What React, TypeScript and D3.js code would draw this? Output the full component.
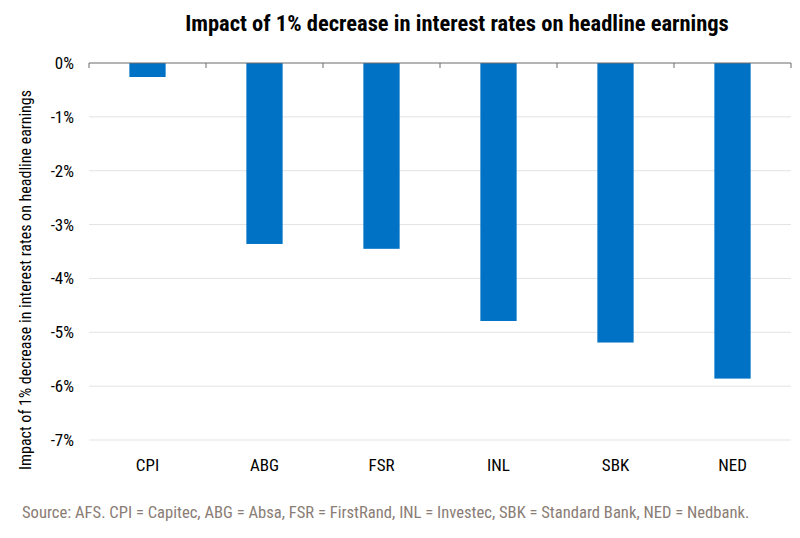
import React from "react";
import * as d3 from "d3";

const categories = ["CPI", "ABG", "FSR", "INL", "SBK", "NED"];
const values = [-0.26, -3.36, -3.45, -4.79, -5.19, -5.86];
const yTicks = [0, -1, -2, -3, -4, -5, -6, -7];

const W = 800;
const H = 538;
const FONT = "'Liberation Sans Narrow', 'Arial Narrow', 'Roboto Condensed', sans-serif";

export default function App() {
  const left = 89;
  const right = 791;
  const top = 63;
  const bottom = 440;
  const x = d3.scaleBand<string>().domain(categories).range([left, right]).paddingInner(0).paddingOuter(0);
  const y = d3.scaleLinear().domain([-7, 0]).range([bottom, top]);
  const bw = x.bandwidth() * 0.31;
  const boundaries = categories.map((c) => x(c) as number).concat([right]);

  return (
    <svg width={W} height={H} style={{ position: "absolute", left: 0, top: 0, background: "#fff" }}>
      <text x={457} y={31} textAnchor="middle" fontFamily={FONT} fontWeight="bold" fontSize={22.5} fill="#000">
        Impact of 1% decrease in interest rates on headline earnings
      </text>
      {yTicks.filter((t) => t !== 0).map((t) => (
        <line key={t} x1={left} x2={right} y1={y(t)} y2={y(t)} stroke="#e3e3e3" strokeWidth={1} />
      ))}
      {yTicks.map((t) => (
        <text key={"l" + t} x={74} y={y(t) + 6} textAnchor="end" fontFamily={FONT} fontSize={17} fill="#000">
          {t + "%"}
        </text>
      ))}
      {categories.map((c, i) => (
        <rect
          key={c}
          x={(x(c) as number) + (x.bandwidth() - bw) / 2}
          y={y(0)}
          width={bw}
          height={y(values[i]) - y(0)}
          fill="#0072C6"
        />
      ))}
      <line x1={left} x2={right} y1={y(0)} y2={y(0)} stroke="#6b6b6b" strokeWidth={1} />
      {boundaries.map((b, i) => (
        <line key={"t" + i} x1={b} x2={b} y1={y(0)} y2={y(0) + 5} stroke="#6b6b6b" strokeWidth={1} />
      ))}
      {categories.map((c) => (
        <text key={"x" + c} x={(x(c) as number) + x.bandwidth() / 2} y={471} textAnchor="middle" fontFamily={FONT} fontSize={17} fill="#000">
          {c}
        </text>
      ))}
      <text
        transform={`translate(31, 280) rotate(-90)`}
        textAnchor="middle"
        fontFamily={FONT}
        fontSize={16}
        fill="#000"
      >
        Impact of 1% decrease in interest rates on headline earnings
      </text>
      <text x={22} y={518} fontFamily={FONT} fontSize={16.6} fill="#8a7d75">
        Source: AFS. CPI = Capitec, ABG = Absa, FSR = FirstRand, INL = Investec, SBK = Standard Bank, NED = Nedbank.
      </text>
    </svg>
  );
}
